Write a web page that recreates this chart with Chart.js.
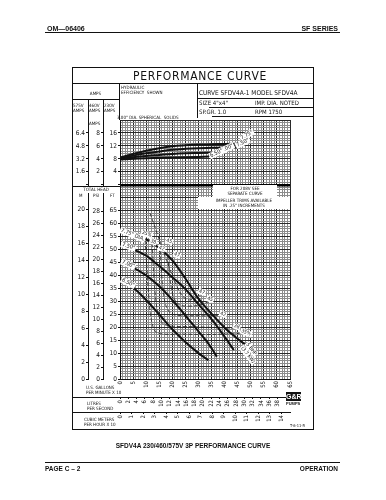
<!DOCTYPE html>
<html>
<head>
<meta charset="utf-8">
<title>SFDV4A performance curve</title>
<script src="https://cdn.jsdelivr.net/npm/chart.js@4.4.1/dist/chart.umd.min.js"></script>
<style>
  html, body { margin: 0; padding: 0; background: #fff; }
  #page { position: relative; width: 386px; height: 500px; overflow: hidden; color: #111;
          font-family: "DejaVu Sans Condensed", "Liberation Sans Narrow", "DejaVu Sans", sans-serif; }
  #curve { position: absolute; left: 0; top: 0; }
  .t { position: absolute; white-space: nowrap; line-height: 1; }
  .b { font-family: "Liberation Sans", Arial, sans-serif; font-weight: bold; }
  .h { position: absolute; height: 1px; background: #111; }
  .v { position: absolute; width: 1px; background: #111; }
  .w { background: #fff; }
  .s { font-size: 4.5px; line-height: 5px; }
</style>
</head>
<body>
<div id="page">
  <canvas id="curve" width="386" height="500"></canvas>

  <!-- page header -->
  <div class="t b" style="left:47px;top:25px;font-size:7px;">OM&#8212;06406</div>
  <div class="t b" style="right:48px;top:25px;font-size:7px;">SF SERIES</div>
  <div class="h" style="left:45px;top:32px;width:295px;"></div>

  <!-- frame and title block -->
  <div style="position:absolute;left:72px;top:67px;width:242px;height:363px;border:1px solid #111;box-sizing:border-box;"></div>
  <div class="t" style="left:133px;top:70px;font-size:12px;letter-spacing:0.7px;">PERFORMANCE CURVE</div>
  <div class="h" style="left:72px;top:83px;width:242px;"></div>
  <div class="v" style="left:119px;top:83px;height:37px;"></div>
  <div class="v" style="left:197px;top:83px;height:35px;"></div>
  <div class="t s" style="left:72px;width:47px;text-align:center;top:91px;">AMPS</div>
  <div class="h" style="left:72px;top:99px;width:47px;"></div>
  <div class="v" style="left:88px;top:99px;height:21px;"></div>
  <div class="v" style="left:103px;top:99px;height:21px;"></div>
  <div class="t s" style="left:73px;top:103px;">575V<br>AMPS</div>
  <div class="t s" style="left:89px;top:103px;">460V<br>AMPS</div>
  <div class="t s" style="left:104px;top:103px;">230V<br>AMPS</div>
  <div class="t s w" style="left:89px;top:121px;">AMPS</div>
  <div class="t s" style="left:121px;top:85px;">HYDRAULIC<br>EFFICIENCY&nbsp; SHOWN</div>
  <div class="t s" style="left:117px;top:115px;">3.00" DIA. SPHERICAL&nbsp; SOLIDS</div>

  <div class="t" style="left:199px;top:90px;font-size:6.5px;">CURVE SFDV4A-1 MODEL SFDV4A</div>
  <div class="h" style="left:197px;top:98px;width:116px;"></div>
  <div class="t" style="left:199px;top:100px;font-size:6px;">SIZE 4"x4"</div>
  <div class="t" style="left:255px;top:100px;font-size:6px;">IMP. DIA. NOTED</div>
  <div class="h" style="left:209px;top:107px;width:104px;"></div>
  <div class="t" style="left:199px;top:109px;font-size:6px;">SP.GR. 1.0</div>
  <div class="t" style="left:255px;top:109px;font-size:6px;">RPM 1750</div>
  <div class="h" style="left:212px;top:116px;width:101px;"></div>

  <!-- head scale header -->
  <div class="h" style="left:72px;top:186px;width:48px;"></div>
  <div class="t s w" style="left:73px;top:187px;width:46px;height:6px;text-align:center;">TOTAL HEAD</div>
  <div class="t s w" style="left:79px;top:193px;">M</div>
  <div class="t s w" style="left:93px;top:193px;">PSI</div>
  <div class="t s w" style="left:110px;top:193px;">FT</div>

  <!-- notes on the grid -->
  <div class="t s w" style="left:213px;top:185px;width:64px;text-align:center;line-height:5.5px;padding:0.5px 0;">FOR 208V SEE<br>SEPARATE CURVE</div>
  <div class="t s w" style="left:198px;top:197px;width:92px;text-align:center;line-height:5.5px;padding:0.5px 0;">IMPELLER TRIMS AVAILABLE<br>IN .25" INCREMENTS</div>

  <!-- flow scale rows -->
  <div class="h" style="left:72px;top:397px;width:218px;"></div>
  <div class="h" style="left:72px;top:412px;width:218px;"></div>
  <div class="t s" style="left:86px;top:385px;">U.S. GALLONS<br>PER MINUTE X 10</div>
  <div class="t s" style="left:87px;top:401px;">LITRES<br>PER SECOND</div>
  <div class="t s" style="left:84px;top:417px;">CUBIC METERS<br>PER HOUR X 10</div>
  <div class="t b" style="left:286px;top:392px;width:15px;height:9px;background:#111;color:#fff;font-size:7px;text-align:center;line-height:9px;">G&amp;R</div>
  <div class="t b" style="left:286px;top:402px;font-size:4px;">PUMPS</div>
  <div class="t" style="left:290px;top:424px;font-size:4px;">T-6-11-R</div>

  <!-- caption and footer -->
  <div class="t b" style="left:0;width:386px;text-align:center;top:443px;font-size:6.5px;">SFDV4A 230/460/575V 3P PERFORMANCE CURVE</div>
  <div class="h" style="left:45px;top:462px;width:295px;"></div>
  <div class="t b" style="left:45px;top:466px;font-size:6.5px;">PAGE C &#8211; 2</div>
  <div class="t b" style="right:48px;top:466px;font-size:6.5px;">OPERATION</div>
</div>

<script>
// flow is US gallons per minute x 10, head is feet
const flow775 = [0, 5, 10, 15, 20, 25, 30, 35, 40, 44, 48];
const head775 = [57.3, 56, 54, 50.6, 45.8, 38.8, 31, 25.2, 19.8, 16.3, 13.2];
const flow750 = [0, 5, 10, 15, 20, 25, 30, 35, 40, 43.5];
const head750 = [51.5, 50, 47.6, 43.6, 39.3, 34.7, 28.8, 23.1, 16.3, 11.2];
const flow700 = [0, 5, 10, 15, 20, 25, 30, 34, 37];
const head700 = [45, 43, 40, 35.8, 30.5, 24.5, 18.4, 13.4, 8.6];
const flow650 = [0, 5, 10, 15, 20, 25, 30, 33.8];
const head650 = [38.7, 35.3, 30.5, 24.9, 19.2, 14.3, 10, 7.3];

// motor current, 230V amps
const ampFlow775 = [0, 5, 10, 15, 20, 25, 30, 35, 40, 47];
const amps775 = [8.4, 9.5, 10.5, 11.3, 11.9, 12.2, 12.4, 12.5, 12.6, 12.7];
const ampFlow750 = [0, 5, 10, 15, 20, 25, 30, 35, 40, 45];
const amps750 = [8.2, 9.0, 9.7, 10.3, 10.8, 11.1, 11.3, 11.4, 11.5, 11.5];
const ampFlow700 = [0, 5, 10, 15, 20, 25, 30, 37];
const amps700 = [8.0, 8.5, 8.9, 9.2, 9.5, 9.7, 9.8, 9.9];
const ampFlow650 = [0, 10, 20, 30, 34];
const amps650 = [7.8, 8.2, 8.4, 8.6, 8.7];

// hydraulic efficiency contours (%)
const effFlow35 = [9.6, 10.6, 11.8, 14, 25, 36, 47.5];
const effHead35 = [53.6, 38, 24, 18, 17.3, 17.2, 17.7];
const effFlow38 = [12.3, 13.2, 14.5, 17, 28, 44];
const effHead38 = [52.3, 36, 25.5, 21, 20.2, 19.6];
const effFlow42 = [15.4, 16.2, 17.5, 20, 30, 39];
const effHead42 = [49.6, 37, 28.5, 25, 24.4, 24.5];
const effFlow45 = [18.3, 19.2, 20.5, 23, 29, 34.5];
const effHead45 = [47.5, 38, 31.5, 28.5, 28.3, 30];
const effFlow47 = [11.5, 16, 20, 23.5, 26.5, 31];
const effHead47 = [64, 51, 40, 32.5, 30.5, 32.5];

// scale tick labels
const gpmTicks = [0, 5, 10, 15, 20, 25, 30, 35, 40, 45, 50, 55, 60, 65];
const lpsTicks = [0, 2, 4, 6, 8, 10, 12, 14, 16, 18, 20, 22, 24, 26, 28, 30, 32, 34, 36, 38];
const m3hTicks = [0, 1, 2, 3, 4, 5, 6, 7, 8, 9, 10, 11, 12, 13, 14];
const ftTicks = [0, 5, 10, 15, 20, 25, 30, 35, 40, 45, 50, 55, 60, 65];
const psiTicks = [0, 2, 4, 6, 8, 10, 12, 14, 16, 18, 20, 22, 24, 26, 28];
const mTicks = [0, 2, 4, 6, 8, 10, 12, 14, 16, 18, 20];
const amp230Ticks = [4, 8, 12, 16];
const amp460Ticks = [2, 4, 6, 8];
const amp575Ticks = [1.6, 3.2, 4.8, 6.4];

// unit conversions
const FT_PER_PSI = 2.3067;
const FT_PER_M = 3.2808;
const GPM_PER_LPS = 15.8503;
const GPM_PER_M3H = 4.40287;
const AMP_ZERO_FT = 75;   // amps panel sits above the head panel
const FT_PER_AMP = 1.25;

Chart.defaults.font.family = '"DejaVu Sans Condensed", "Liberation Sans Narrow", "DejaVu Sans", sans-serif';
Chart.defaults.color = '#111';

function pts(xs, ys) {
    return xs.map(function (x, i) { return { x: x, y: ys[i] }; });
}

function headCurve(xs, ys) {
    return { data: pts(xs, ys), yAxisID: 'y', borderColor: '#111', borderWidth: 2, pointRadius: 0, tension: 0.4, fill: false };
}

function ampCurve(xs, ys) {
    return { data: pts(xs, ys), yAxisID: 'yA', borderColor: '#111', borderWidth: 2, pointRadius: 0, tension: 0.4, fill: false };
}

function effCurve(xs, ys) {
    return { data: pts(xs, ys), yAxisID: 'y', borderColor: '#222', borderWidth: 0.8, borderDash: [4, 2], pointRadius: 0, tension: 0.3, fill: false };
}

// one left column = amps labels on top, head labels below
function sideAxis(weight, width, ampLabels, ampFactor, headLabels, headFactor) {
    return {
        type: 'linear', position: 'left', weight: weight, min: 0, max: 100,
        afterBuildTicks: function (s) {
            var t = [{ value: AMP_ZERO_FT, lab: '' }];
            ampLabels.forEach(function (a) {
                t.push({ value: AMP_ZERO_FT + a * ampFactor * FT_PER_AMP, lab: String(a) });
            });
            headLabels.forEach(function (h) {
                t.push({ value: h * headFactor, lab: String(h) });
            });
            t.sort(function (a, b) { return a.value - b.value; });
            s.ticks = t;
        },
        afterFit: function (s) { s.width = width; },
        ticks: { autoSkip: false, padding: 1, font: { size: 6.5 }, color: '#111',
                 callback: function (v, i, t) { return t[i].lab; } },
        grid: { drawOnChartArea: false, tickLength: 2, color: '#111' },
        border: { display: true, color: '#111' }
    };
}

function flowAxis(weight, height, labels, factor) {
    return {
        type: 'linear', position: 'bottom', weight: weight, min: 0, max: 65,
        afterBuildTicks: function (s) {
            s.ticks = labels.map(function (l) { return { value: l * factor, lab: String(l) }; });
        },
        afterFit: function (s) { s.height = height; },
        ticks: { autoSkip: false, minRotation: 90, maxRotation: 90, padding: 1, font: { size: 6 }, color: '#111',
                 callback: function (v, i, t) { return t[i].lab; } },
        grid: { drawOnChartArea: false, tickLength: 2, color: '#111' },
        border: { display: true, color: '#111' }
    };
}

function gridColor(c) {
    var v = Math.round(c.tick.value);
    if (c.scale.id === 'y' && v === AMP_ZERO_FT) return '#000';
    return v % 5 === 0 ? '#2a2a2a' : '#8c8c8c';
}

function gridWidth(c) {
    var v = Math.round(c.tick.value);
    return (c.scale.id === 'y' && v === AMP_ZERO_FT) ? 2.5 : 1;
}

function note(c, px, py, text, rot, size) {
    c.save();
    c.translate(px, py);
    c.rotate(rot * Math.PI / 180);
    c.font = size + 'px "DejaVu Sans Condensed", "Liberation Sans Narrow", "DejaVu Sans", sans-serif';
    var w = c.measureText(text).width;
    c.fillStyle = '#fff';
    c.fillRect(-1, -size / 2 - 0.5, w + 2, size + 1);
    c.fillStyle = '#111';
    c.textBaseline = 'middle';
    c.fillText(text, 0, 0);
    c.restore();
}

// curve and contour labels, placed through the chart scales
const notesPlugin = {
    id: 'notes',
    afterDatasetsDraw: function (chart) {
        var c = chart.ctx;
        var sx = chart.scales.x, sy = chart.scales.y, sa = chart.scales.yA;
        function onHead(x, y, text, rot, size) { note(c, sx.getPixelForValue(x), sy.getPixelForValue(y), text, rot, size || 5.5); }
        function onAmps(x, y, text, rot) { note(c, sx.getPixelForValue(x), sa.getPixelForValue(y), text, rot, 5.5); }

        onHead(0.4, 57.5, '7.75" DIA.', 22);
        onHead(0.8, 52, '7.50"', 18);
        onHead(0.8, 45.3, '7.00"', 22);
        onHead(0.8, 38.3, '6.50"', 26);

        onHead(8.4, 56.6, '35%', 20, 5);
        onHead(11.7, 53.4, '38', 20, 5);
        onHead(14.9, 50.8, '42', 20, 5);
        onHead(17.8, 53.6, '45', 20, 5);
        onHead(20.7, 48.3, '47', 20, 5);
        onHead(30.3, 34, '47', 20, 5);
        onHead(33.4, 31.2, '45', 20, 5);
        onHead(38.4, 25.4, '42', 20, 5);
        onHead(43.6, 20.6, '38', 20, 5);
        onHead(46.4, 18.6, '35%', 20, 5);

        onHead(48.6, 13.6, '5 BHP', 52, 5);
        onHead(46.6, 12.2, '(3.7 KW)', 52, 5);

        onAmps(46.3, 14.3, '7.75"', -30);
        onAmps(44.6, 12.1, '7.50"', -25);
        onAmps(38.6, 10.4, '7.00"', -25);
        onAmps(34.6, 8.9, '6.50"', -25);
    }
};

var ctx = document.getElementById('curve').getContext('2d');
new Chart(ctx, {
    type: 'line',
    data: {
        datasets: [
            effCurve(effFlow35, effHead35),
            effCurve(effFlow38, effHead38),
            effCurve(effFlow42, effHead42),
            effCurve(effFlow45, effHead45),
            effCurve(effFlow47, effHead47),
            headCurve(flow775, head775),
            headCurve(flow750, head750),
            headCurve(flow700, head700),
            headCurve(flow650, head650),
            ampCurve(ampFlow775, amps775),
            ampCurve(ampFlow750, amps750),
            ampCurve(ampFlow700, amps700),
            ampCurve(ampFlow650, amps650)
        ]
    },
    options: {
        responsive: false,
        animation: false,
        devicePixelRatio: 1,
        layout: { padding: { left: 72, top: 120, right: 96, bottom: 71 } },
        plugins: { legend: { display: false }, tooltip: { enabled: false } },
        scales: {
            x: {
                type: 'linear', position: 'bottom', weight: 0, min: 0, max: 65,
                afterBuildTicks: function (s) {
                    var t = [];
                    for (var v = 0; v <= 65; v++) t.push({ value: v });
                    s.ticks = t;
                },
                afterFit: function (s) { s.height = 18; },
                ticks: { autoSkip: false, minRotation: 90, maxRotation: 90, padding: 2, font: { size: 6 }, color: '#111',
                         callback: function (v) { return gpmTicks.indexOf(v) >= 0 ? String(v) : ''; } },
                grid: { color: gridColor, lineWidth: gridWidth, drawTicks: false },
                border: { display: true, color: '#111' }
            },
            xL: flowAxis(1, 15, lpsTicks, GPM_PER_LPS / 10),
            xM: flowAxis(2, 17, m3hTicks, GPM_PER_M3H),
            y: {
                type: 'linear', position: 'left', weight: 0, min: 0, max: 100,
                afterBuildTicks: function (s) {
                    var t = [];
                    for (var v = 0; v <= 100; v++) t.push({ value: v });
                    s.ticks = t;
                },
                afterFit: function (s) { s.width = 0; },
                ticks: { display: false },
                grid: { color: gridColor, lineWidth: gridWidth, drawTicks: false },
                border: { display: false }
            },
            yA: { type: 'linear', display: false, min: -AMP_ZERO_FT / FT_PER_AMP, max: (100 - AMP_ZERO_FT) / FT_PER_AMP },
            cA: sideAxis(1, 17, amp230Ticks, 1, ftTicks, 1),
            cB: sideAxis(2, 15, amp460Ticks, 2, psiTicks, FT_PER_PSI),
            cC: sideAxis(3, 16, amp575Ticks, 2.5, mTicks, FT_PER_M)
        }
    },
    plugins: [notesPlugin]
});
</script>
</body>
</html>
